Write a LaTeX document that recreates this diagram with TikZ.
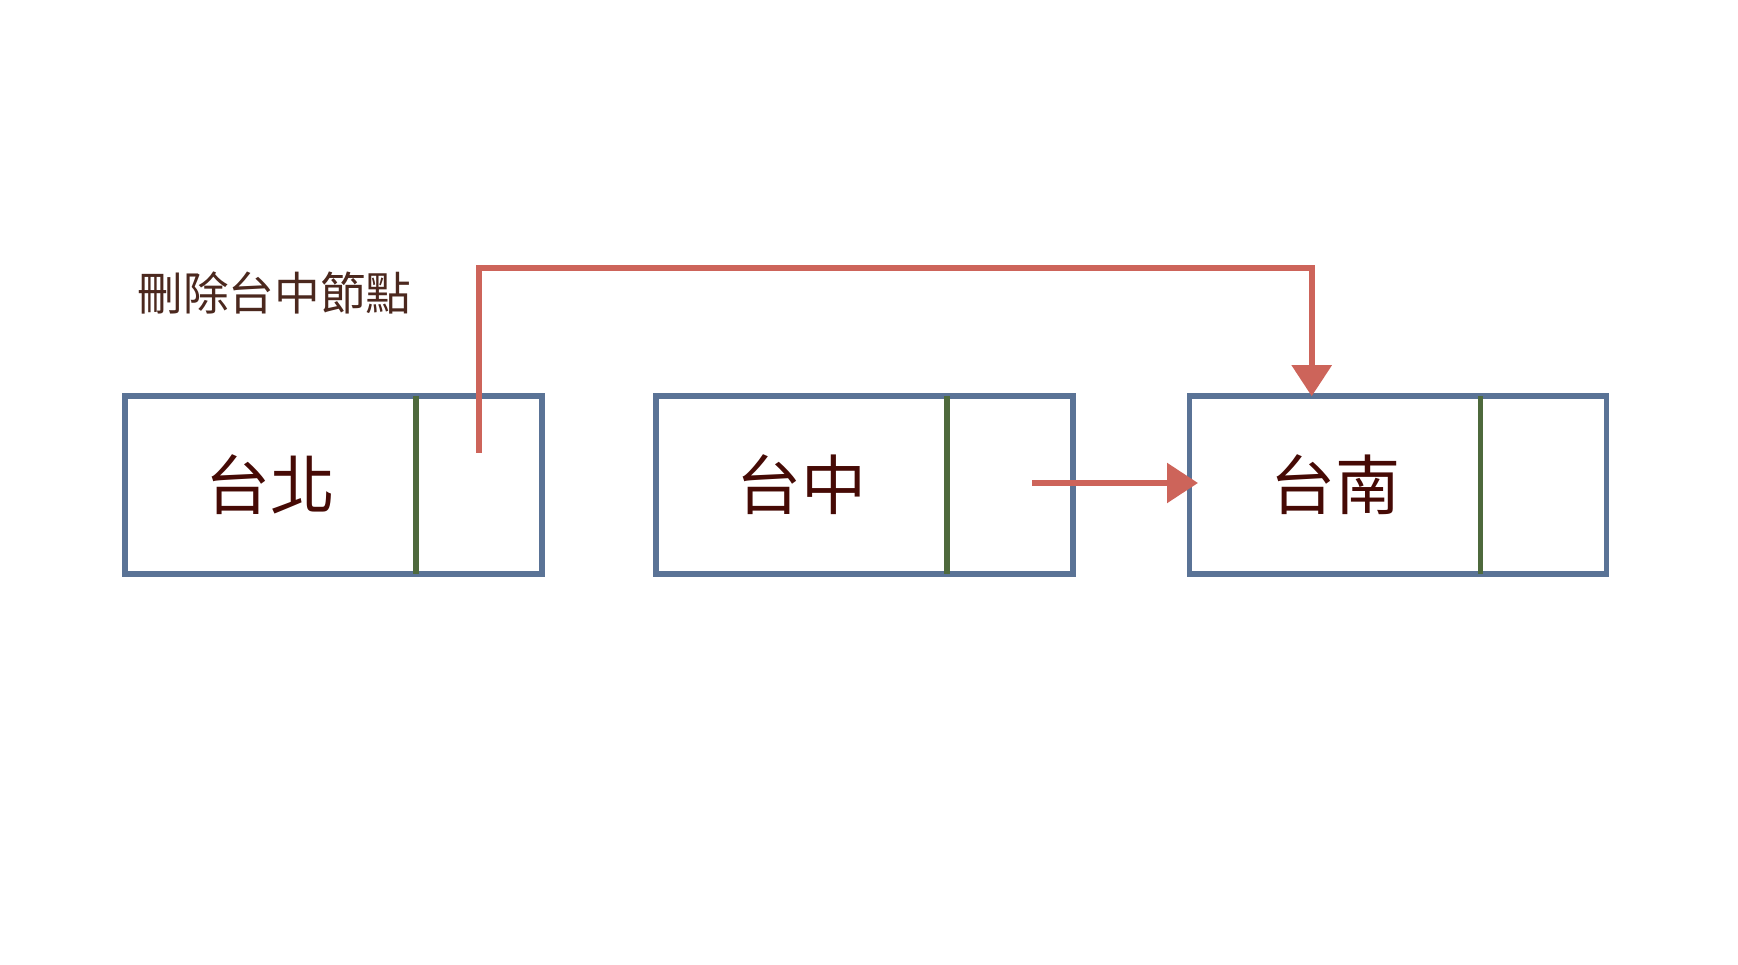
\documentclass[tikz,border=0pt]{standalone}
\usepackage{fontspec}
\setmainfont{Noto Sans CJK TC}
\usetikzlibrary{positioning,arrows.meta}
\definecolor{boxblue}{RGB}{90,115,150}
\definecolor{bargreen}{RGB}{78,105,60}
\definecolor{linkred}{RGB}{205,100,90}
\definecolor{labelbrown}{RGB}{70,10,5}
\definecolor{titlebrown}{RGB}{75,40,30}

\begin{document}
\begin{tikzpicture}[
	datacell/.style={draw=boxblue,line width=1.6pt,minimum width=2.91cm,minimum height=1.775cm,inner sep=0,outer sep=0,text=labelbrown,font=\fontsize{18.5}{20}\selectfont},
	ptrcell/.style={draw=boxblue,line width=1.6pt,minimum width=1.26cm,minimum height=1.775cm,inner sep=0,outer sep=0},
	bar/.style={draw=bargreen,line width=1.6pt},
	link/.style={draw=linkred,line width=1.6pt,-{Triangle[length=0.31cm,width=0.39cm]}}
]
	\useasboundingbox (0,0) rectangle (17.38,9.64);
	\node[anchor=west,text=titlebrown,font=\fontsize{13}{15}\selectfont] (title) at (1.25,6.71) {刪除台中節點};
	\node[datacell] (tp) at (2.705,4.79) {台北};
	\node[ptrcell,right=0pt of tp] (tpp) {};
	\node[datacell] (tz) at (8.015,4.79) {台中};
	\node[ptrcell,right=0pt of tz] (tzp) {};
	\node[datacell] (tn) at (13.35,4.79) {台南};
	\node[ptrcell,right=0pt of tn] (tnp) {};
	\draw[bar] (tp.north east) -- (tp.south east);
	\draw[bar] (tz.north east) -- (tz.south east);
	\draw[bar] (tn.north east) -- (tn.south east);
	\coordinate (tpstart) at ([yshift=0.32cm]tpp.center);
	\coordinate (tnin) at ([xshift=-0.233cm]tn.north);
	\coordinate (top) at (0,6.96);
	\draw[link] (tpstart) -- (tpstart |- top) -| (tnin);
	\draw[link,shorten >=-0.085cm] ([xshift=0.22cm,yshift=0.02cm]tzp.center) -- ([yshift=0.02cm]tn.west);
\end{tikzpicture}
\end{document}
